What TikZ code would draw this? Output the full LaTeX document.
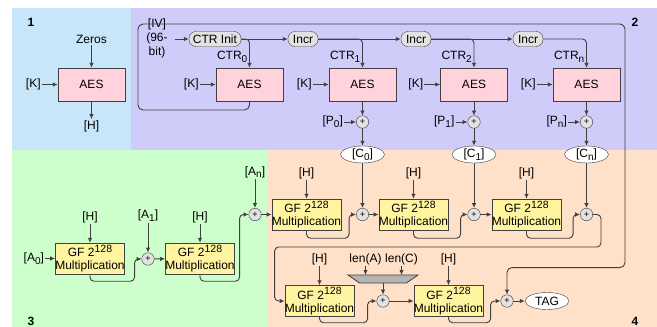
\documentclass[tikz,border=0pt]{standalone}
\usepackage{fontspec}
\setmainfont{Liberation Sans}
\usetikzlibrary{arrows.meta,positioning,shapes.geometric,calc}

\definecolor{bgone}{HTML}{C8E6FA}
\definecolor{bgtwo}{HTML}{D0CCFA}
\definecolor{bgthree}{HTML}{CCFFCC}
\definecolor{bgfour}{HTML}{FFE0C8}
\definecolor{aespink}{HTML}{FFD2DC}
\definecolor{gfyellow}{HTML}{FFF5A0}
\definecolor{pillgray}{HTML}{E2E2E2}
\definecolor{muxgray}{HTML}{B4B4B4}
\definecolor{edge}{HTML}{404040}

\newcommand{\lowsub}[1]{\raisebox{-0.45ex}{\fontsize{10}{10}\selectfont #1}}
\newcommand{\highsup}[1]{\raisebox{0.75ex}{\fontsize{10.5}{10}\selectfont #1}}

\begin{document}
\begin{tikzpicture}[
    x=1pt, y=-1pt,
    font=\fontsize{12}{14}\selectfont,
    aes/.style={rectangle, draw=edge, fill=aespink, minimum width=67pt, minimum height=33pt},
    gf/.style={rectangle, draw=edge, fill=gfyellow, minimum width=69pt, minimum height=31pt, inner sep=0pt, align=center, font=\fontsize{12}{13}\selectfont},
    pill/.style={rectangle, rounded corners=7pt, draw=edge, fill=pillgray, minimum height=15pt, inner sep=2pt},
    xor/.style={circle, draw=edge, fill=pillgray, minimum size=12.5pt, inner sep=0pt, font=\fontsize{9}{9}\selectfont},
    oval/.style={ellipse, draw=edge, fill=white, minimum width=44pt, minimum height=17pt, inner sep=0pt},
    lbl/.style={inner sep=1pt},
    tag/.style={font=\fontsize{12}{14}\selectfont\bfseries},
    arrow/.style={-{Latex[length=5pt,width=4.5pt]}, draw=edge, line width=0.9pt},
    loop/.style={arrow, rounded corners=4pt}
]
    \useasboundingbox (0,0) rectangle (657,327);
    % background regions
    \fill[bgone] (12,8) rectangle (131,150);
    \fill[bgtwo] (131,8) rectangle (657,150);
    \fill[bgthree] (12,150) rectangle (267,327);
    \fill[bgfour] (267,150) rectangle (657,327);
    \node[tag] (num1) at (31,22) {1};
    \node[tag] (num2) at (635,22) {2};
    \node[tag] (num3) at (31,321) {3};
    \node[tag] (num4) at (635,321) {4};

    % region 1: hash key
    \node[aes] (aesh) at (91.5,84.5) {AES};
    \node[lbl, above=23pt of aesh] (zeros) {Zeros};
    \node[lbl, left=16pt of aesh] (kh) {[K]};
    \node[lbl, below=18pt of aesh] (hkey) {[H]};
    \draw[arrow] (zeros) -- (aesh);
    \draw[arrow] (kh) -- (aesh);
    \draw[arrow] (aesh) -- (hkey);

    % region 2: counter mode
    \node[lbl, align=center] (iv) at (157,38) {[IV]\\(96-\\bit)};
    \node[pill, minimum width=52pt] (init) at (215,39) {CTR Init};
    \node[pill, minimum width=30pt] (inc1) at (303,39) {Incr};
    \node[pill, minimum width=30pt] (inc2) at (416,39) {Incr};
    \node[pill, minimum width=30pt] (inc3) at (528,39) {Incr};
    \node[aes] (aes0) at (249.5,84.5) {AES};
    \node[aes] (aes1) at (362.5,84.5) {AES};
    \node[aes] (aes2) at (474,84.5) {AES};
    \node[aes] (aesn) at (586.5,84.5) {AES};
    \node[lbl, above left=4pt and 1pt of aes0.north] (ctr0) {CTR\lowsub{0}};
    \node[lbl, above left=4pt and 1pt of aes1.north] (ctr1) {CTR\lowsub{1}};
    \node[lbl, above left=4pt and 1pt of aes2.north] (ctr2) {CTR\lowsub{2}};
    \node[lbl, above left=4pt and 1pt of aesn.north] (ctrn) {CTR\lowsub{n}};
    \node[lbl, left=16pt of aes0] (k0) {[K]};
    \node[lbl, left=16pt of aes1] (k1) {[K]};
    \node[lbl, left=16pt of aes2] (k2) {[K]};
    \node[lbl, left=16pt of aesn] (kn) {[K]};
    \node[xor] (xp0) at (362.5,122) {+};
    \node[xor] (xp1) at (474,122) {+};
    \node[xor] (xpn) at (586.5,122) {+};
    \node[lbl, left=12pt of xp0] (p0) {[P\lowsub{0}]};
    \node[lbl, left=12pt of xp1] (p1) {[P\lowsub{1}]};
    \node[lbl, left=12pt of xpn] (pn) {[P\lowsub{n}]};
    \node[oval] (c0) at (362.5,154.5) {[C\lowsub{0}]};
    \node[oval] (c1) at (474,154.5) {[C\lowsub{1}]};
    \node[oval] (cn) at (586.5,154.5) {[C\lowsub{n}]};

    \coordinate (ivin) at ($(iv.east |- init)+(6,0)$);
    \draw[arrow] (ivin) -- (init);
    \draw[arrow] (init) -- (inc1);
    \draw[arrow] (inc1) -- (inc2);
    \draw[arrow] (inc2) -- (inc3);
    \draw[loop] (init.east) -| (aes0.north);
    \draw[loop] (inc1.east) -| (aes1.north);
    \draw[loop] (inc2.east) -| (aes2.north);
    \draw[loop] (inc3.east) -| (aesn.north);
    \draw[arrow] (k0) -- (aes0);
    \draw[arrow] (k1) -- (aes1);
    \draw[arrow] (k2) -- (aes2);
    \draw[arrow] (kn) -- (aesn);
    \draw[arrow] (aes1) -- (xp0);
    \draw[arrow] (aes2) -- (xp1);
    \draw[arrow] (aesn) -- (xpn);
    \draw[arrow] (p0) -- (xp0);
    \draw[arrow] (p1) -- (xp1);
    \draw[arrow] (pn) -- (xpn);
    \draw[arrow] (xp0) -- (c0);
    \draw[arrow] (xp1) -- (c1);
    \draw[arrow] (xpn) -- (cn);

    % region 3: additional data
    \node[gf] (ga) at (90,258.5) {GF 2\highsup{128}\\Multiplication};
    \node[gf] (gb) at (200,258.5) {GF 2\highsup{128}\\Multiplication};
    \node[xor] (xa1) at (148,259) {+};
    \node[xor] (xan) at (255,214.5) {+};
    \node[lbl, left=10pt of ga] (a0) {[A\lowsub{0}]};
    \node[lbl, above=19pt of ga] (ha) {[H]};
    \node[lbl, above=19pt of gb] (hb) {[H]};
    \node[lbl, above=30pt of xa1] (a1) {[A\lowsub{1}]};
    \node[lbl, above=29pt of xan] (an) {[A\lowsub{n}]};
    \draw[arrow] (a0) -- (ga);
    \draw[arrow] (ha) -- (ga);
    \draw[arrow] (hb) -- (gb);
    \draw[arrow] (a1) -- (xa1);
    \draw[arrow] (an) -- (xan);
    \draw[loop] (ga.south) -- ++(0,7) -| ([xshift=-7pt]xa1.west) -- (xa1.west);
    \draw[arrow] (xa1) -- (gb);
    \draw[loop] (gb.south) -- ++(0,7) -| ([xshift=-9pt]xan.west) -- (xan.west);

    % region 4: ciphertext and tag
    \node[gf] (g1) at (306.5,214.5) {GF 2\highsup{128}\\Multiplication};
    \node[gf] (g2) at (413.5,214.5) {GF 2\highsup{128}\\Multiplication};
    \node[gf] (g3) at (526.5,214.5) {GF 2\highsup{128}\\Multiplication};
    \node[xor] (xc0) at (362.5,214.5) {+};
    \node[xor] (xc1) at (474,214.5) {+};
    \node[xor] (xc2) at (586.5,214.5) {+};
    \node[lbl, above=19pt of g1] (h1) {[H]};
    \node[lbl, above=19pt of g2] (h2) {[H]};
    \node[lbl, above=19pt of g3] (h3) {[H]};
    \node[gf] (g4) at (319.5,301) {GF 2\highsup{128}\\Multiplication};
    \node[gf] (g5) at (448.5,301) {GF 2\highsup{128}\\Multiplication};
    \node[lbl, above=19pt of g4] (h4) {[H]};
    \node[lbl, above=19pt of g5] (h5) {[H]};
    \coordinate (mux) at (383,279);
    \coordinate (muxtop) at ($(mux)+(0,-4)$);
    \coordinate (muxbot) at ($(mux)+(0,4)$);
    \filldraw[draw=edge, fill=muxgray, line width=0.8pt] ($(mux)+(-35,-4)$) -- ($(mux)+(35,-4)$) -- ($(mux)+(23.5,4)$) -- ($(mux)+(-23.5,4)$) -- cycle;
    \node[lbl] (lena) at (365.5,259) {len(A)};
    \node[lbl] (lenc) at (401.5,259) {len(C)};
    \node[xor] (xl) at (383,301) {+};
    \node[xor] (xf) at (507,301) {+};
    \node[oval] (tagout) at (547,301) {TAG};

    \draw[arrow] (xan) -- (g1);
    \draw[arrow] (h1) -- (g1);
    \draw[arrow] (h2) -- (g2);
    \draw[arrow] (h3) -- (g3);
    \draw[arrow] (c0) -- (xc0);
    \draw[arrow] (c1) -- (xc1);
    \draw[arrow] (cn) -- (xc2);
    \draw[loop] (g1.south) -- ++(0,8) -| ([xshift=-7pt]xc0.west) -- (xc0.west);
    \draw[arrow] (xc0) -- (g2);
    \draw[loop] (g2.south) -- ++(0,8) -| ([xshift=-7pt]xc1.west) -- (xc1.west);
    \draw[arrow] (xc1) -- (g3);
    \draw[loop] (g3.south) -- ++(0,8) -| ([xshift=-7pt]xc2.west) -- (xc2.west);
    \draw[loop] (xc2.east) -- ++(8,0) -- ++(0,32.5) -| ([xshift=-10pt]g4.west) -- (g4.west);
    \draw[arrow] (h4) -- (g4);
    \draw[arrow] (h5) -- (g5);
    \draw[arrow] (lena) -- (lena |- muxtop);
    \draw[arrow] (lenc) -- (lenc |- muxtop);
    \draw[arrow] (muxbot) -- (xl);
    \draw[loop] (g4.south) -- ++(0,6) -| ([xshift=-9pt]xl.west) -- (xl.west);
    \draw[arrow] (xl) -- (g5);
    \draw[loop] (g5.south) -- ++(0,6) -| ([xshift=-10pt]xf.west) -- (xf.west);
    \draw[arrow] (xf) -- (tagout);

    % IV loop from first counter block to the tag
    \draw[arrow, rounded corners=5pt] (aes0.south) |- (138,110) |- (625,24) |- ([yshift=27pt]xf.north) -- (xf.north);
\end{tikzpicture}
\end{document}
